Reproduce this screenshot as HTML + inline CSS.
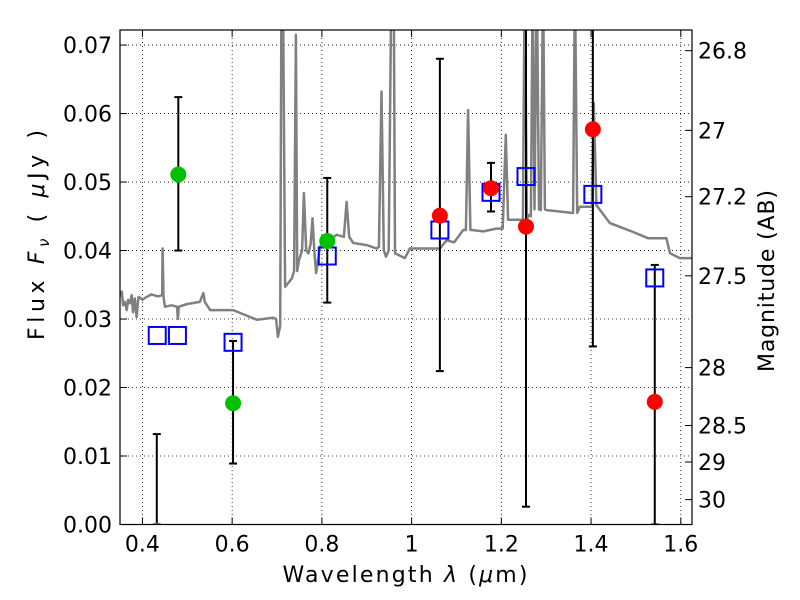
<!DOCTYPE html>
<html><head><meta charset="utf-8"><style>
html,body{margin:0;padding:0;background:#fff;}
svg text{font-family:"DejaVu Sans","Liberation Sans",sans-serif;fill:#000;}
</style></head><body>
<svg id="chart" width="800" height="600" viewBox="0 0 800 600" xmlns="http://www.w3.org/2000/svg" style="position:absolute;left:0;top:0">
<rect x="0" y="0" width="800" height="600" fill="#fff"/>
<defs><clipPath id="clip"><rect x="120" y="30" width="572" height="494.5"/></clipPath></defs>
<g id="grid"></g>
<g id="plot" clip-path="url(#clip)"></g>
<g id="axes"></g>
<text x="405" y="582" text-anchor="middle" font-size="22" textLength="245" lengthAdjust="spacing">Wavelength  <tspan font-style="italic">λ</tspan> (<tspan font-style="italic">μ</tspan>m)</text>
<text transform="translate(44,235) rotate(-90)" text-anchor="middle" font-size="22" textLength="210" lengthAdjust="spacing">Flux  <tspan font-style="italic">F</tspan><tspan font-style="italic" font-size="15" dy="5">ν</tspan><tspan dy="-5">  (  </tspan><tspan font-style="italic">μ</tspan>Jy )</text>
<text transform="translate(774,281) rotate(-90)" text-anchor="middle" font-size="22" textLength="182" lengthAdjust="spacing">Magnitude (AB)</text>
</svg>
<script>
const xTicks=[0.4,0.6,0.8,1.0,1.2,1.4,1.6];
const xTickLabels=["0.4","0.6","0.8","1","1.2","1.4","1.6"];
const yTicks=[0,0.01,0.02,0.03,0.04,0.05,0.06,0.07];
const yTickLabels=["0.00","0.01","0.02","0.03","0.04","0.05","0.06","0.07"];
const magTicks=[26.8,27,27.2,27.5,28,28.5,29,30];
const magTickLabels=["26.8","27","27.2","27.5","28","28.5","29","30"];
const specLam=[0.350,0.354,0.357,0.361,0.365,0.368,0.372,0.376,0.379,0.383,0.387,0.391,0.395,0.400,0.406,0.420,0.435,0.444,0.445,0.447,0.450,0.465,0.477,0.479,0.481,0.500,0.528,0.536,0.539,0.551,0.602,0.655,0.691,0.698,0.702,0.707,0.710,0.713,0.718,0.733,0.738,0.742,0.745,0.749,0.756,0.760,0.765,0.770,0.775,0.779,0.783,0.787,0.796,0.815,0.833,0.849,0.855,0.861,0.870,0.900,0.922,0.927,0.933,0.938,0.943,0.949,0.955,0.960,0.963,0.985,0.996,1.019,1.063,1.078,1.095,1.115,1.121,1.126,1.131,1.134,1.160,1.189,1.203,1.210,1.215,1.245,1.248,1.252,1.257,1.261,1.266,1.270,1.274,1.279,1.284,1.288,1.293,1.297,1.301,1.330,1.357,1.360,1.364,1.369,1.375,1.402,1.406,1.412,1.442,1.470,1.494,1.527,1.568,1.576,1.598,1.625];
const specFlux=[0.0333,0.0340,0.0320,0.0325,0.0313,0.0328,0.0323,0.0335,0.0310,0.0330,0.0303,0.0332,0.0331,0.0328,0.0331,0.0336,0.0333,0.0335,0.0403,0.0333,0.0318,0.0320,0.0318,0.0300,0.0318,0.0322,0.0325,0.0338,0.0325,0.0313,0.0313,0.0299,0.0302,0.0300,0.0274,0.0290,0.0800,0.0800,0.0347,0.0359,0.0370,0.0715,0.0370,0.0386,0.0400,0.0484,0.0400,0.0396,0.0410,0.0447,0.0400,0.0367,0.0406,0.0415,0.0423,0.0420,0.0471,0.0420,0.0411,0.0408,0.0403,0.0405,0.0632,0.0400,0.0391,0.0400,0.0800,0.0800,0.0396,0.0389,0.0403,0.0403,0.0403,0.0415,0.0412,0.0430,0.0430,0.0605,0.0430,0.0430,0.0428,0.0432,0.0432,0.0569,0.0445,0.0445,0.0445,0.0800,0.0445,0.0452,0.0450,0.0800,0.0460,0.0800,0.0460,0.0459,0.0800,0.0460,0.0459,0.0457,0.0455,0.0455,0.0800,0.0455,0.0464,0.0464,0.0615,0.0466,0.0440,0.0433,0.0427,0.0418,0.0418,0.0396,0.0389,0.0389];
const greenLam=[0.432,0.480,0.602,0.812];
const greenFlux=[-0.0009,0.0511,0.0177,0.0414];
const greenLo=[0.0,0.0400,0.0089,0.0324];
const greenHi=[0.0132,0.0624,0.0268,0.0506];
const redLam=[1.063,1.177,1.255,1.404,1.542];
const redFlux=[0.0451,0.0491,0.0435,0.0577,0.0179];
const redLo=[0.0224,0.0457,0.0026,0.0260,0.0];
const redHi=[0.0680,0.0528,0.0900,0.0900,0.0379];
const blueLam=[0.433,0.478,0.602,0.812,1.063,1.177,1.255,1.404,1.542];
const blueFlux=[0.0276,0.0276,0.0266,0.0392,0.0430,0.0485,0.0508,0.0482,0.0360];

const X0=120,X1=692,Y0=524.5,Y1=30,XMIN=0.35,XMAX=1.625,YMIN=0,YMAX=0.0722;
function sx(v){return X0+(v-XMIN)/(XMAX-XMIN)*(X1-X0);}
function sy(v){return Y0-(v-YMIN)/(YMAX-YMIN)*(Y0-Y1);}
function magToFlux(m){return Math.pow(10,(23.9-m)/2.5);}
const NS="http://www.w3.org/2000/svg";
function mk(tag,attrs,parent){const e=document.createElementNS(NS,tag);for(const k in attrs)e.setAttribute(k,attrs[k]);parent.appendChild(e);return e;}
const grid=document.getElementById('grid'),plot=document.getElementById('plot'),axes=document.getElementById('axes');

xTicks.forEach((t,i)=>{
  const l=mk('line',{x1:sx(t),x2:sx(t),y1:Y1,y2:Y0,stroke:'#000','stroke-width':0.8,'stroke-dasharray':'1,3'},grid);
  
  
});
yTicks.forEach((t,i)=>{
  const l=mk('line',{x1:X0,x2:X1,y1:sy(t),y2:sy(t),stroke:'#000','stroke-width':0.8,'stroke-dasharray':'1,3'},grid);
  
  
});

let d='';specLam.forEach((l,i)=>{d+=(i?'L':'M')+sx(l).toFixed(1)+','+sy(specFlux[i]).toFixed(1);});
const sp=mk('path',{d:d,fill:'none',stroke:'#808080','stroke-width':2.5,'stroke-linejoin':'round'},plot);



function errbar(lam,lo,hi){
  const x=sx(lam);
  const g=mk('g',{},plot);
  
  
  mk('line',{x1:x,x2:x,y1:sy(lo),y2:sy(hi),stroke:'#000','stroke-width':2},g);
  mk('line',{x1:x-4,x2:x+4,y1:sy(lo),y2:sy(lo),stroke:'#000','stroke-width':2},g);
  mk('line',{x1:x-4,x2:x+4,y1:sy(hi),y2:sy(hi),stroke:'#000','stroke-width':2},g);
}
greenLam.forEach((l,i)=>errbar(l,greenLo[i],greenHi[i]));
redLam.forEach((l,i)=>errbar(l,redLo[i],redHi[i]));
blueLam.forEach((l,i)=>{
  const r=mk('rect',{x:sx(l)-8.5,y:sy(blueFlux[i])-8.5,width:17,height:17,fill:'none',stroke:'#0000ff','stroke-width':2},plot);
  
  
});
greenLam.forEach((l,i)=>{
  const c=mk('circle',{cx:sx(l),cy:sy(greenFlux[i]),r:8,fill:'#00c000'},plot);
  
  
});
redLam.forEach((l,i)=>{
  const c=mk('circle',{cx:sx(l),cy:sy(redFlux[i]),r:8,fill:'#ff0000'},plot);
  
  
});

const fr=mk('rect',{x:X0,y:Y1,width:X1-X0,height:Y0-Y1,fill:'none',stroke:'#000','stroke-width':1.2},axes);


xTicks.forEach((t,i)=>{
  mk('line',{x1:sx(t),x2:sx(t),y1:Y0,y2:Y0-7,stroke:'#000','stroke-width':1},axes);
  mk('line',{x1:sx(t),x2:sx(t),y1:Y1,y2:Y1+7,stroke:'#000','stroke-width':1},axes);
  const tx=mk('text',{x:sx(t),y:Y0+27,'text-anchor':'middle','font-size':22},axes);
  tx.textContent=xTickLabels[i];
  
  
});
yTicks.forEach((t,i)=>{
  mk('line',{x1:X0,x2:X0+7,y1:sy(t),y2:sy(t),stroke:'#000','stroke-width':1},axes);
  const tx=mk('text',{x:X0-8,y:sy(t)+8,'text-anchor':'end','font-size':22},axes);
  tx.textContent=yTickLabels[i];
  
  
});
magTicks.forEach((m,i)=>{
  const y=sy(magToFlux(m));
  mk('line',{x1:X1,x2:X1-7,y1:y,y2:y,stroke:'#000','stroke-width':1},axes);
  const tx=mk('text',{x:X1+6,y:y+8,'text-anchor':'start','font-size':22},axes);
  tx.textContent=magTickLabels[i];
  
  
});
</script>
</body></html>
